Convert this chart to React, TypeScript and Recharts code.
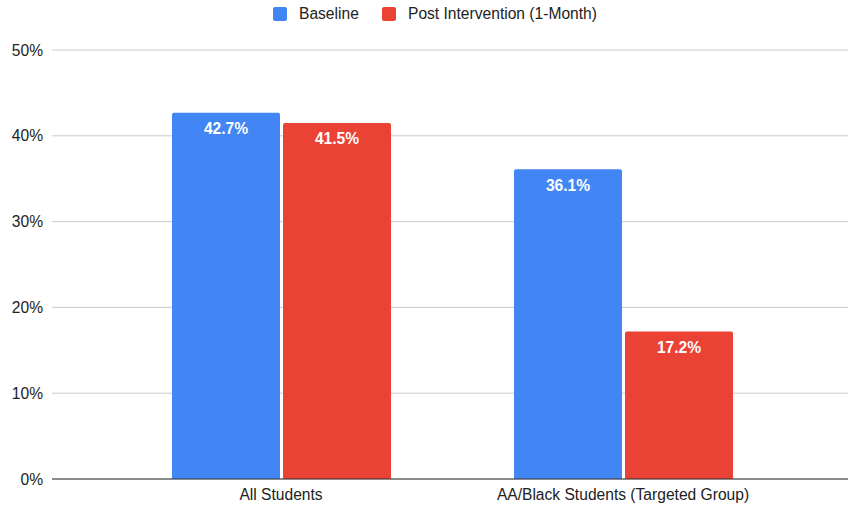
import React from "react";
import { BarChart, Bar, XAxis, YAxis, CartesianGrid, Legend, LabelList } from "recharts";

const categories = ["All Students", "AA/Black Students (Targeted Group)"];
const baselineValues = [42.7, 36.1];
const postValues = [41.5, 17.2];
const yTicks = [0, 10, 20, 30, 40, 50];
const seriesNames = ["Baseline", "Post Intervention (1-Month)"];
const seriesColors = ["#4285F4", "#EA4335"];

const data = categories.map((c, i) => ({
  name: c,
  baseline: baselineValues[i],
  post: postValues[i],
}));

const FONT = '"Liberation Sans", Arial, sans-serif';
const FS = 15.6;

const renderLabel = (props: any) => {
  const { x, y, width, value } = props;
  return (
    <text
      x={x + width / 2}
      y={y + 16}
      textAnchor="middle"
      dominantBaseline="central"
      fill="#ffffff"
      fontFamily={FONT}
      fontSize={FS}
      fontWeight="bold"
    >
      {`${Number(value).toFixed(1)}%`}
    </text>
  );
};

const LegendContent = () => (
  <div
    style={{
      height: 29,
      fontFamily: FONT,
      fontSize: FS,
      color: "#222",
      position: "relative",
    }}
  >
    {seriesNames.map((n, i) => (
      <div
        key={n}
        style={{
          position: "absolute",
          left: i === 0 ? 273 : 382,
          top: 6,
          display: "flex",
          alignItems: "center",
          whiteSpace: "nowrap",
        }}
      >
        <span
          style={{
            display: "inline-block",
            width: 14,
            height: 14,
            borderRadius: 2,
            background: seriesColors[i],
            marginRight: 12,
          }}
        />
        <span style={{ lineHeight: "16px" }}>{n}</span>
      </div>
    ))}
  </div>
);

export default function App() {
  return (
    <div style={{ position: "absolute", left: 0, top: 0, width: 848, height: 507, background: "#fff" }}>
      <BarChart
        width={848}
        height={507}
        data={data}
        margin={{ top: 21, right: 0, bottom: 0, left: 0 }}
        barSize={108}
        barGap={3}
      >
        <Legend
          verticalAlign="top"
          align="left"
          content={<LegendContent />}
          wrapperStyle={{ top: 0, left: 0, width: 848, height: 29 }}
        />
        <CartesianGrid vertical={false} stroke="#cccccc" />
        <XAxis
          dataKey="name"
          height={28}
          padding={{ left: 58, right: 54 }}
          axisLine={{ stroke: "#333333" }}
          tickLine={false}
          tickMargin={4}
          tick={{ fill: "#222", fontFamily: FONT, fontSize: FS }}
        />
        <YAxis
          width={52}
          domain={[0, 50]}
          ticks={yTicks}
          axisLine={false}
          tickLine={false}
          tickMargin={3}
          tickFormatter={(v: number) => `${v}%`}
          tick={{ fill: "#222", fontFamily: FONT, fontSize: FS }}
        />
        <Bar dataKey="baseline" name={seriesNames[0]} fill={seriesColors[0]} radius={[2, 2, 0, 0]} isAnimationActive={false}>
          <LabelList dataKey="baseline" content={renderLabel} />
        </Bar>
        <Bar dataKey="post" name={seriesNames[1]} fill={seriesColors[1]} radius={[2, 2, 0, 0]} isAnimationActive={false}>
          <LabelList dataKey="post" content={renderLabel} />
        </Bar>
      </BarChart>
    </div>
  );
}
